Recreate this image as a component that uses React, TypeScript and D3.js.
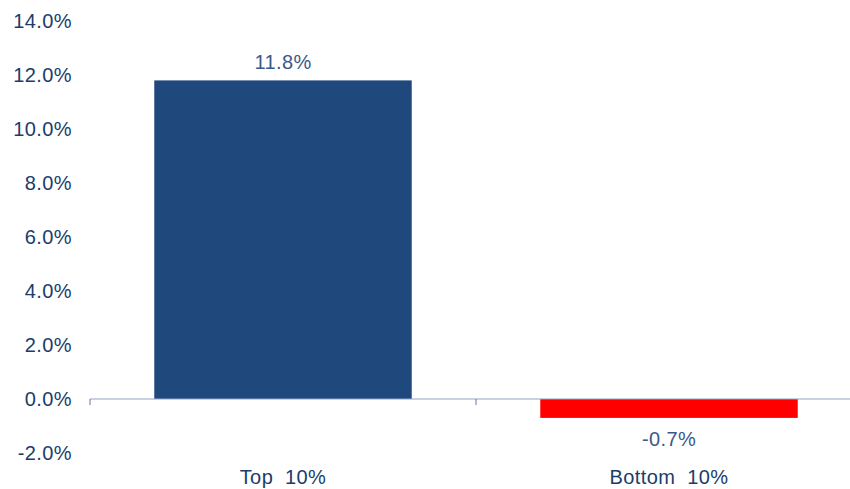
import React from "react";
import * as d3 from "d3";

const categories = ["Top 10%", "Bottom 10%"];
const values = [11.8, -0.7];
const barColors = ["#1F497D", "#FF0000"];
const yTicks = [-2, 0, 2, 4, 6, 8, 10, 12, 14];

const W = 850;
const H = 489;

export default function App() {
  const x = d3.scaleBand<string>().domain(categories).range([90, 862]).paddingInner(0.333).paddingOuter(0.1665);
  const y = d3.scaleLinear().domain([-2, 14]).range([453, 21]);
  const band = d3.scaleBand<string>().domain(categories).range([90, 862]);
  const font = "'Liberation Sans', Arial, sans-serif";
  const textColor = "#1A3D6B";
  const fs = 20;
  const ls = 0.4;
  return (
    <svg width={W} height={H} style={{ position: "absolute", left: 0, top: 0, background: "#fff" }} fontFamily={font}>
      {yTicks.map((t) => (
        <text key={t} x={72} y={y(t)} dy="0.36em" textAnchor="end" fontSize={fs} letterSpacing={ls} fill={textColor}>
          {t.toFixed(1) + "%"}
        </text>
      ))}
      {categories.map((c, i) => {
        const v = values[i];
        const y0 = y(0);
        const yv = y(v);
        return (
          <g key={c}>
            <rect x={x(c)} y={Math.min(y0, yv)} width={x.bandwidth()} height={Math.abs(yv - y0)} fill={barColors[i]} />
            <text
              x={(x(c) as number) + x.bandwidth() / 2}
              y={v >= 0 ? yv - 11.5 : yv + 28}
              textAnchor="middle"
              fontSize={fs}
              letterSpacing={ls}
              fill="#3A5A8A"
            >
              {v.toFixed(1) + "%"}
            </text>
            <text
              x={(band(c) as number) + band.bandwidth() / 2}
              y={484}
              textAnchor="middle"
              fontSize={fs}
              letterSpacing={ls}
              fill={textColor}
              style={{ whiteSpace: "pre" }}
            >
              {c.replace(" ", "  ")}
            </text>
          </g>
        );
      })}
      <line x1={90} x2={862} y1={y(0)} y2={y(0)} stroke="#8FA3C4" strokeWidth={1.2} />
      {[0, 1, 2].map((i) => {
        const xp = 90 + i * band.bandwidth();
        return <line key={i} x1={xp} x2={xp} y1={y(0)} y2={y(0) + 6} stroke="#5C77A0" strokeWidth={1} />;
      })}
    </svg>
  );
}
